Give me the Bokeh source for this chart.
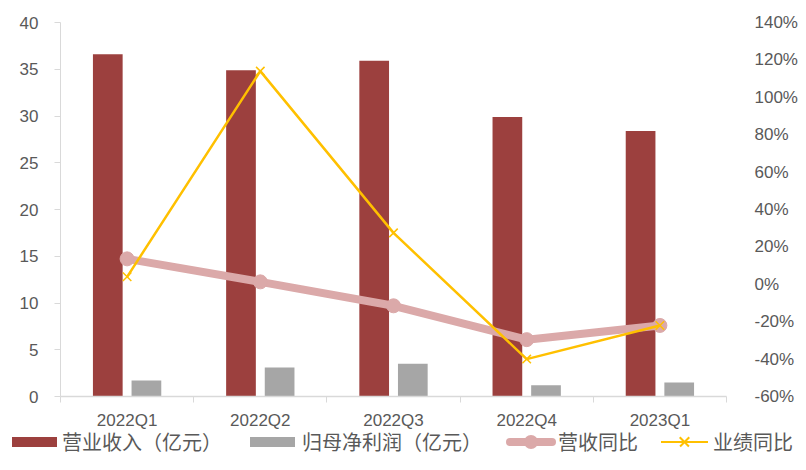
from bokeh.plotting import figure
from bokeh.layouts import column
from bokeh.models import (Range1d, LinearAxis, FixedTicker, SingleIntervalTicker,
                          NumeralTickFormatter, ColumnDataSource, Div)
from bokeh.transform import dodge
from bokeh.embed import file_html
from bokeh.resources import INLINE

categories = ["2022Q1", "2022Q2", "2022Q3", "2022Q4", "2023Q1"]
revenue = [36.6, 34.9, 35.9, 29.9, 28.4]          # 营业收入（亿元）
net_profit = [1.7, 3.1, 3.5, 1.2, 1.5]            # 归母净利润（亿元）
revenue_yoy = [0.136, 0.013, -0.115, -0.296, -0.22]   # 营收同比
profit_yoy = [0.04, 1.14, 0.275, -0.40, -0.22]        # 业绩同比
pct_ticks = [-0.6, -0.4, -0.2, 0.0, 0.2, 0.4, 0.6, 0.8, 1.0, 1.2, 1.4]
series_names = ["营业收入（亿元）", "归母净利润（亿元）", "营收同比", "业绩同比"]

n = len(categories)
xpos = [i + 0.5 for i in range(n)]          # category centres on the index scale
boundaries = list(range(n + 1))             # category boundaries (tick marks)

src = ColumnDataSource(dict(x=xpos, rev=revenue, np_=net_profit,
                            ryoy=revenue_yoy, pyoy=profit_yoy))

LABEL = "#595959"
AXIS = "#D9D9D9"
RED = "#9C403E"
GREY = "#A6A6A6"
PINK = "#DBA9A9"
GOLD = "#FFC000"
NUM_FONT = "Liberation Sans"
CJK_FONT = "Noto Sans CJK SC"

p = figure(width=800, height=432, x_range=Range1d(0, n),
           y_range=Range1d(0, 40), output_backend="svg", toolbar_location=None,
           x_axis_location=None, y_axis_location="left",
           min_border_left=60, min_border_right=68, min_border_top=22, min_border_bottom=35)
p.outline_line_color = None
p.xgrid.visible = False
p.ygrid.visible = False
p.background_fill_color = "white"
p.border_fill_color = "white"

p.extra_y_ranges = {"pct": Range1d(-0.6, 1.4)}

# left axis
ya = p.yaxis[0]
ya.ticker = SingleIntervalTicker(interval=5, num_minor_ticks=0)
ya.axis_line_color = AXIS
ya.major_tick_line_color = AXIS
ya.major_tick_out = 6
ya.major_tick_in = 0
ya.minor_tick_line_color = None
ya.major_label_text_color = LABEL
ya.major_label_text_font = NUM_FONT
ya.major_label_text_font_size = "17px"
ya.major_label_standoff = 16

# right axis
ra = LinearAxis(y_range_name="pct", ticker=FixedTicker(ticks=pct_ticks),
                formatter=NumeralTickFormatter(format="0%"))
ra.axis_line_color = None
ra.major_tick_line_color = None
ra.minor_tick_line_color = None
ra.major_label_text_color = LABEL
ra.major_label_text_font = NUM_FONT
ra.major_label_text_font_size = "17px"
ra.major_label_standoff = 22
p.add_layout(ra, "right")

# bottom: boundary ticks axis
ta = LinearAxis(ticker=FixedTicker(ticks=boundaries))
ta.axis_line_color = AXIS
ta.axis_line_width = 1.5
ta.major_tick_line_color = AXIS
ta.major_tick_out = 6
ta.major_tick_in = 0
ta.minor_tick_line_color = None
ta.major_label_text_font_size = "1px"
ta.major_label_text_alpha = 0
ta.major_label_standoff = 0
p.add_layout(ta, "below")

# bottom: category labels
ca = LinearAxis(ticker=FixedTicker(ticks=xpos),
                major_label_overrides={x: c for x, c in zip(xpos, categories)})
ca.axis_line_color = None
ca.major_tick_line_color = None
ca.minor_tick_line_color = None
ca.major_label_text_color = LABEL
ca.major_label_text_font = NUM_FONT
ca.major_label_text_font_size = "17px"
ca.major_label_standoff = 2
p.add_layout(ca, "below")

p.vbar(x=dodge("x", -0.145), top="rev", width=0.223, source=src, color=RED, line_color=None)
p.vbar(x=dodge("x", 0.145), top="np_", width=0.223, source=src, color=GREY, line_color=None)
p.line(x="x", y="ryoy", source=src, y_range_name="pct", line_color=PINK, line_width=8)
p.scatter(x="x", y="ryoy", source=src, y_range_name="pct", marker="circle",
          size=14, fill_color=PINK, line_color=PINK)
p.line(x="x", y="pyoy", source=src, y_range_name="pct", line_color=GOLD, line_width=2.5)
p.scatter(x="x", y="pyoy", source=src, y_range_name="pct", marker="x",
          size=12, line_color=GOLD, line_width=1.5)

# legend strip as HTML (the chart frame would clip a Legend placed this far out)
def ab(left, top, w, h, css=""):
    return (f'<span style="position:absolute;left:{left}px;top:{top}px;width:{w}px;'
            f'height:{h}px;{css}"></span>')

def label(left, text):
    return (f'<span style="position:absolute;left:{left}px;top:1px;white-space:nowrap;">'
            f'{text}</span>')

html = (f'<div style="position:relative;width:800px;height:32px;font-family:\'{CJK_FONT}\';'
        f'font-size:20px;line-height:20px;color:{LABEL};">'
        + ab(12, 6, 45, 10, f"background:{RED};") + label(62, series_names[0])
        + ab(250, 6, 45, 10, f"background:{GREY};") + label(302, series_names[1])
        + ab(506, 7, 50, 8, f"background:{PINK};border-radius:4px;")
        + ab(524, 4, 14, 14, f"background:{PINK};border-radius:50%;")
        + label(558, series_names[2])
        + ab(661, 10, 47, 2, f"background:{GOLD};")
        + ab(678, 10, 13, 1.5, f"background:{GOLD};transform:rotate(45deg);")
        + ab(678, 10, 13, 1.5, f"background:{GOLD};transform:rotate(-45deg);")
        + label(713, series_names[3])
        + '</div>')

legend_div = Div(text=html, width=800, height=32, margin=(-1, 0, 0, 0))

layout = column(p, legend_div, spacing=0)
open("out.html", "w").write(file_html(layout, INLINE))
